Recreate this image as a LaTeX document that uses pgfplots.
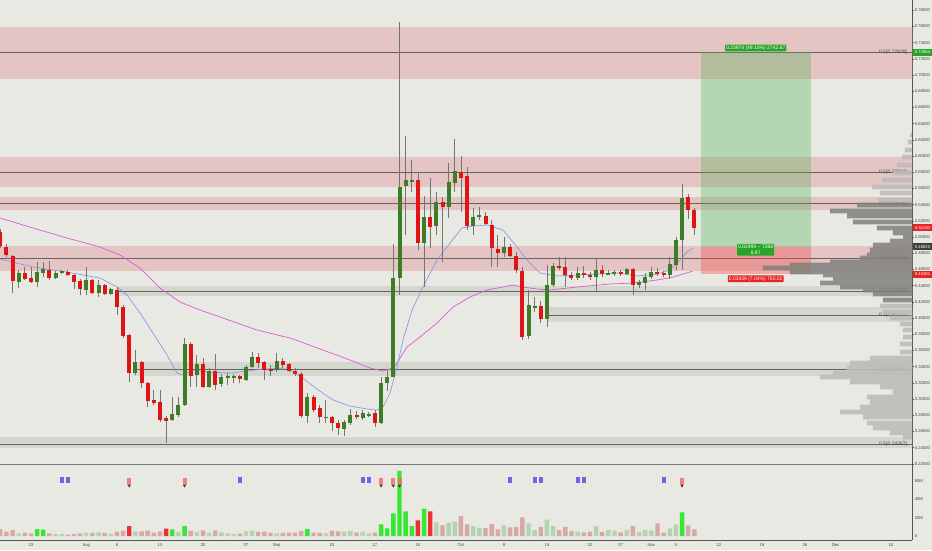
\documentclass[border=0pt]{standalone}
\usepackage{pgfplots}
\pgfplotsset{compat=1.18}
\usepackage{pgfplotstable}
\usepackage{fontspec}
\setmainfont{Liberation Sans}

\definecolor{bg}{RGB}{232,233,226}
\definecolor{zonepink}{RGB}{228,197,196}
\definecolor{zonegrey}{RGB}{213,215,207}
\definecolor{zoneline}{RGB}{100,100,96}
\definecolor{candleup}{RGB}{62,124,40}
\definecolor{candledn}{RGB}{224,20,20}
\definecolor{wick}{RGB}{118,118,112}
\definecolor{mablue}{RGB}{120,150,230}
\definecolor{mapink}{RGB}{218,90,218}
\definecolor{axisgrey}{RGB}{85,85,85}
\definecolor{labelgrey}{RGB}{70,70,70}
\definecolor{tpgreen}{RGB}{76,175,80}
\definecolor{slred}{RGB}{240,80,80}
\definecolor{taggreen}{RGB}{40,165,40}
\definecolor{tagred}{RGB}{232,36,36}
\definecolor{tagdark}{RGB}{62,62,62}
\definecolor{profdark}{RGB}{128,128,125}
\definecolor{proflight}{RGB}{188,189,184}
\definecolor{volup}{RGB}{52,232,52}
\definecolor{voldn}{RGB}{236,48,48}
\definecolor{volupf}{RGB}{180,211,174}
\definecolor{voldnf}{RGB}{214,168,166}
\definecolor{flagblue}{RGB}{104,104,232}
\definecolor{flagred}{RGB}{234,112,112}

\newcommand{\tinyfont}{\fontsize{4.2}{5}\selectfont}
\newcommand{\fibfont}{\fontsize{5}{6}\selectfont}

% daily candles, k = days after 23 Jul
\pgfplotstableread{
k o h l c
-2 0.4448 0.4593 0.4367 0.4556
1 0.4441 0.4688 0.4379 0.4572
2 0.4559 0.4695 0.4503 0.4605
4 0.4498 0.4580 0.4482 0.4556
5 0.4559 0.4593 0.4543 0.4580
9 0.4346 0.4633 0.4284 0.4469
11 0.4312 0.4469 0.4263 0.4407
13 0.4296 0.4370 0.4284 0.4355
17 0.3317 0.3605 0.3296 0.3453
23 0.2741 0.3028 0.2735 0.2815
24 0.2802 0.3028 0.2778 0.2926
25 0.2926 0.3753 0.2914 0.3679
27 0.3296 0.3543 0.3152 0.3432
29 0.3152 0.3383 0.3136 0.3349
31 0.3181 0.3309 0.3148 0.3268
32 0.3268 0.3321 0.3173 0.3284
33 0.3268 0.3309 0.3198 0.3280
35 0.3235 0.3420 0.3222 0.3399
36 0.3399 0.3580 0.3383 0.3515
40 0.3358 0.3568 0.3333 0.3473
45 0.2790 0.3074 0.2700 0.3028
48 0.2769 0.2988 0.2704 0.2781
51 0.2626 0.2741 0.2543 0.2720
52 0.2707 0.2873 0.2679 0.2802
54 0.2762 0.2864 0.2741 0.2823
55 0.2802 0.2840 0.2778 0.2815
57 0.2707 0.3275 0.2704 0.3198
58 0.3194 0.3358 0.3099 0.3275
59 0.3275 0.4914 0.3275 0.4490
60 0.4490 0.7654 0.4284 0.5621
61 0.5630 0.6247 0.5025 0.5704
62 0.5691 0.5951 0.5559 0.5704
64 0.4922 0.5506 0.4386 0.5243
66 0.5136 0.5559 0.5025 0.5436
68 0.5374 0.5917 0.5231 0.5675
69 0.5663 0.6206 0.5559 0.5815
72 0.5136 0.5354 0.5025 0.5251
73 0.5251 0.5367 0.5210 0.5272
77 0.4806 0.5004 0.4757 0.4880
81 0.3784 0.4346 0.3741 0.4158
82 0.4130 0.4259 0.4078 0.4142
84 0.3991 0.4654 0.3893 0.4404
85 0.4404 0.4676 0.4386 0.4642
89 0.4490 0.4633 0.4469 0.4552
92 0.4503 0.4737 0.4337 0.4593
94 0.4540 0.4593 0.4531 0.4552
95 0.4543 0.4593 0.4519 0.4572
97 0.4540 0.4614 0.4527 0.4601
99 0.4407 0.4469 0.4367 0.4445
100 0.4436 0.4552 0.4346 0.4503
101 0.4503 0.4633 0.4485 0.4572
104 0.4531 0.4749 0.4478 0.4663
105 0.4654 0.5004 0.4593 0.4963
106 0.4963 0.5654 0.4593 0.5485
}\upcandles

\pgfplotstableread{
k o h l c
-5 0.5066 0.5099 0.4864 0.4889
-4 0.4880 0.4914 0.4753 0.4778
-3 0.4765 0.4778 0.4312 0.4457
-1 0.4559 0.4633 0.4469 0.4485
0 0.4494 0.4633 0.4428 0.4445
3 0.4593 0.4704 0.4469 0.4498
6 0.4572 0.4587 0.4519 0.4531
7 0.4531 0.4543 0.4355 0.4448
8 0.4461 0.4482 0.4284 0.4355
10 0.4469 0.4482 0.4296 0.4312
12 0.4407 0.4420 0.4284 0.4296
14 0.4346 0.4386 0.4037 0.4132
15 0.4132 0.4161 0.3749 0.3778
16 0.3790 0.3803 0.3214 0.3317
18 0.3453 0.3469 0.3132 0.3194
19 0.3201 0.3210 0.2898 0.2979
20 0.2988 0.3111 0.2926 0.2954
21 0.2963 0.3111 0.2720 0.2741
22 0.2765 0.2790 0.2461 0.2732
26 0.3679 0.3707 0.3152 0.3290
28 0.3432 0.3506 0.3136 0.3152
30 0.3349 0.3556 0.3111 0.3173
34 0.3284 0.3296 0.3194 0.3243
37 0.3515 0.3568 0.3383 0.3448
38 0.3461 0.3469 0.3235 0.3358
39 0.3367 0.3420 0.3284 0.3349
41 0.3473 0.3506 0.3383 0.3420
42 0.3432 0.3444 0.3333 0.3349
43 0.3349 0.3383 0.3284 0.3309
44 0.3309 0.3333 0.2765 0.2790
46 0.3028 0.3046 0.2840 0.2864
47 0.2885 0.2926 0.2704 0.2774
49 0.2774 0.2794 0.2605 0.2700
50 0.2707 0.2741 0.2556 0.2638
53 0.2802 0.2852 0.2753 0.2774
56 0.2823 0.2864 0.2654 0.2707
63 0.5704 0.5806 0.4840 0.4922
65 0.5251 0.5725 0.4861 0.5127
67 0.5428 0.5498 0.4691 0.5374
70 0.5799 0.5999 0.5312 0.5732
71 0.5757 0.5864 0.5087 0.5136
74 0.5259 0.5312 0.5144 0.5161
75 0.5148 0.5210 0.4633 0.4861
76 0.4856 0.5025 0.4633 0.4806
78 0.4873 0.4914 0.4757 0.4769
79 0.4765 0.4819 0.4552 0.4593
80 0.4584 0.4633 0.3728 0.3769
83 0.4145 0.4210 0.3942 0.3991
86 0.4642 0.4749 0.4593 0.4614
87 0.4626 0.4749 0.4379 0.4535
88 0.4527 0.4572 0.4469 0.4494
90 0.4552 0.4642 0.4490 0.4527
91 0.4531 0.4572 0.4469 0.4503
93 0.4593 0.4654 0.4510 0.4543
96 0.4572 0.4593 0.4519 0.4543
98 0.4601 0.4614 0.4284 0.4407
102 0.4568 0.4614 0.4519 0.4543
103 0.4559 0.4584 0.4510 0.4527
107 0.5498 0.5531 0.5219 0.5338
108 0.5338 0.5364 0.5019 0.5115
}\dncandles

% visible range volume profile (price level, relative volume)
\pgfplotstableread{
p w
0.6259 1.3
0.6173 2.7
0.6074 4.7
0.5988 6.7
0.5889 10.1
0.5790 12.8
0.5704 20.1
0.5617 26.8
0.5543 21.5
0.5457 22.8
0.4148 21.5
0.4074 19.5
0.4000 14.8
0.3926 8.1
0.3852 6.0
0.3765 6.0
0.3679 8.1
0.3580 8.1
0.3506 28.2
0.3445 41.6
0.3383 43.6
0.3321 53.0
0.3272 61.7
0.3210 41.6
0.3148 21.5
0.3086 12.8
0.3025 30.2
0.2963 28.2
0.2901 34.9
0.2840 48.3
0.2778 32.9
0.2704 30.2
0.2642 26.2
0.2580 14.8
0.2531 6.0
}\proflighttab

\pgfplotstableread{
p w
0.5395 36.9
0.5321 55.0
0.5259 43.6
0.5185 39.6
0.5111 23.5
0.5049 12.8
0.5000 6.0
0.4951 14.8
0.4901 26.2
0.4840 28.2
0.4778 30.2
0.4741 34.9
0.4691 55.0
0.4654 81.9
0.4617 100
0.4568 81.9
0.4531 59.7
0.4494 53.0
0.4432 61.7
0.4383 48.3
0.4346 32.9
0.4296 26.2
0.4222 19.5
}\profdarktab

\begin{document}
\begin{tikzpicture}
\fill[bg] (0,0) rectangle (932pt,550pt);
\path[use as bounding box] (0,0) rectangle (932pt,550pt);

% ---------------- price pane ----------------
\begin{axis}[
  at={(0pt,86pt)}, anchor=south west,
  width=912pt, height=464pt, scale only axis,
  xmin=-5.047, xmax=143.44, ymin=0.2198, ymax=0.7926,
  axis x line=none, axis y line*=right,
  axis line style={draw=axisgrey, line width=0.6pt},
  ytick={0.22,0.24,0.26,0.28,0.30,0.32,0.34,0.36,0.38,0.40,0.42,0.44,0.46,0.48,0.50,0.52,0.54,0.56,0.58,0.60,0.62,0.64,0.66,0.68,0.70,0.72,0.74,0.76,0.78},
  scaled y ticks=false,
  tick align=outside, major tick length=2pt,
  tick style={draw=axisgrey, line width=0.4pt},
  yticklabel style={font=\tinyfont, text=labelgrey, inner sep=0.6pt,
    /pgf/number format/.cd, fixed, fixed zerofill, precision=5, assume math mode=true},
]
% zones
\addplot[draw=none, fill=zonepink, forget plot] coordinates {(-6,0.6947) (145,0.6947) (145,0.7596) (-6,0.7596)};
\addplot[draw=none, fill=zonepink, forget plot] coordinates {(-6,0.5621) (145,0.5621) (145,0.5994) (-6,0.5994)};
\addplot[draw=none, fill=zonepink, forget plot] coordinates {(-6,0.5333) (145,0.5333) (145,0.5498) (-6,0.5498)};
\addplot[draw=none, fill=zonepink, forget plot] coordinates {(-6,0.4586) (145,0.4586) (145,0.4895) (-6,0.4895)};
\addplot[draw=none, fill=zonegrey, forget plot] coordinates {(14.2,0.4272) (145,0.4272) (145,0.4395) (14.2,0.4395)};
\addplot[draw=none, fill=zonegrey, forget plot] coordinates {(84,0.3954) (145,0.3954) (145,0.4140) (84,0.4140)};
\addplot[draw=none, fill=zonegrey, forget plot] coordinates {(16.6,0.3284) (145,0.3284) (145,0.3457) (16.6,0.3457)};
\addplot[draw=none, fill=zonegrey, forget plot] coordinates {(-6,0.2395) (145,0.2395) (145,0.2531) (-6,0.2531)};
% zone mid lines
\addplot[zoneline, line width=0.7pt, forget plot] coordinates {(-6,0.72828) (145,0.72828)};
\addplot[zoneline, line width=0.7pt, forget plot] coordinates {(-6,0.58024) (145,0.58024)};
\addplot[zoneline, line width=0.7pt, forget plot] coordinates {(-6,0.54106) (145,0.54106)};
\addplot[zoneline, line width=0.7pt, forget plot] coordinates {(-6,0.47411) (145,0.47411)};
\addplot[zoneline, line width=0.7pt, forget plot] coordinates {(14.2,0.43252) (145,0.43252)};
\addplot[zoneline, line width=0.7pt, forget plot] coordinates {(84,0.40372) (145,0.40372)};
\addplot[zoneline, line width=0.7pt, forget plot] coordinates {(16.6,0.33614) (145,0.33614)};
\addplot[zoneline, line width=0.7pt, forget plot] coordinates {(-6,0.24367) (145,0.24367)};
\node[anchor=east, font=\fibfont, text=labelgrey, inner sep=0.5pt] at (axis cs:142.8,0.72828) {0.5(0.72828)};
\node[anchor=east, font=\fibfont, text=labelgrey, inner sep=0.5pt] at (axis cs:142.8,0.58024) {0.5(0.58024)};
\node[anchor=east, font=\fibfont, text=labelgrey, inner sep=0.5pt] at (axis cs:142.8,0.54106) {0.5(0.54106)};
\node[anchor=east, font=\fibfont, text=labelgrey, inner sep=0.5pt] at (axis cs:142.8,0.47411) {0.5(0.47411)};
\node[anchor=east, font=\fibfont, text=labelgrey, inner sep=0.5pt] at (axis cs:142.8,0.43252) {0.5(0.43252)};
\node[anchor=east, font=\fibfont, text=labelgrey, inner sep=0.5pt] at (axis cs:142.8,0.40372) {0.5(0.40372)};
\node[anchor=east, font=\fibfont, text=labelgrey, inner sep=0.5pt] at (axis cs:142.8,0.33614) {0.5(0.33614)};
\node[anchor=east, font=\fibfont, text=labelgrey, inner sep=0.5pt] at (axis cs:142.8,0.24367) {0.5(0.24367)};

% long position
\addplot[draw=none, fill=tpgreen, fill opacity=0.32, forget plot] coordinates {(109.03,0.4882) (126.94,0.4882) (126.94,0.72804) (109.03,0.72804)};
\addplot[draw=none, fill=slred, fill opacity=0.38, forget plot] coordinates {(109.03,0.45391) (126.94,0.45391) (126.94,0.4882) (109.03,0.4882)};
\node[fill=taggreen, text=white, font=\fibfont, inner sep=1pt, rounded corners=0.5pt] at (axis cs:117.99,0.7333) {0.23974 (49.10\%) 2742.67};
\node[fill=taggreen, text=white, font=\fibfont, inner sep=1pt, align=center, rounded corners=0.5pt] at (axis cs:117.99,0.4843) {0.02490 \textasciitilde{} 7269\\6.97};
\node[fill=tagred, text=white, font=\fibfont, inner sep=1pt, rounded corners=0.5pt] at (axis cs:117.99,0.4485) {0.03439 (7.04\%) 750.02};

% moving averages
\addplot[mapink, line width=0.7pt, line join=round, forget plot] coordinates {
(-5.05,0.5235) (0.33,0.5111) (5.86,0.4988) (11.23,0.4877) (14.49,0.4778) (17.75,0.4617) (21.0,0.4370) (24.26,0.4198) (27.52,0.4099) (31.26,0.4000) (36.8,0.3852) (42.17,0.3753) (47.54,0.3605) (51.94,0.3482) (55.19,0.3383) (57.31,0.3346) (58.94,0.3383) (59.59,0.3445) (61.22,0.3642) (63.33,0.3765) (66.1,0.3938) (68.71,0.4136) (71.47,0.4259) (74.24,0.4346) (76.85,0.4383) (78.48,0.4407) (80.1,0.4383) (82.38,0.4358) (84.5,0.4346) (88.9,0.4383) (94.27,0.4420) (98.01,0.4432) (101.92,0.4469) (104.53,0.4506) (107.78,0.4580)};
\addplot[mablue, line width=0.6pt, line join=round, forget plot] coordinates {
(-5.05,0.4728) (0.33,0.4630) (5.86,0.4568) (11.23,0.4494) (14.0,0.4383) (15.63,0.4284) (17.75,0.4062) (19.86,0.3815) (22.14,0.3543) (23.77,0.3321) (24.75,0.3296) (26.38,0.3358) (29.14,0.3333) (32.4,0.3321) (35.17,0.3346) (37.77,0.3370) (41.68,0.3383) (43.8,0.3284) (46.57,0.3123) (49.17,0.2988) (51.94,0.2914) (54.7,0.2877) (56.33,0.2864) (57.3,0.2901) (58.45,0.3074) (59.6,0.3395) (60.57,0.3728) (62.03,0.4099) (63.82,0.4383) (66.1,0.4716) (68.22,0.4926) (70.17,0.5111) (71.96,0.5136) (74.24,0.5148) (76.85,0.5086) (79.13,0.4877) (80.76,0.4716) (82.87,0.4556) (85.64,0.4519) (88.9,0.4531) (92.15,0.4543) (95.41,0.4556) (98.67,0.4519) (101.92,0.4543) (104.04,0.4593) (105.67,0.4716) (106.81,0.4815) (107.78,0.4864)};

% wicks
\addplot[draw=none, mark=none, forget plot,
  error bars/.cd, y dir=both, y explicit, error mark=none,
  error bar style={draw=wick, line width=0.8pt}]
  table[x=k, y=o, y error plus expr=\thisrow{h}-\thisrow{o}, y error minus expr=\thisrow{o}-\thisrow{l}] {\upcandles};
\addplot[draw=none, mark=none, forget plot,
  error bars/.cd, y dir=both, y explicit, error mark=none,
  error bar style={draw=wick, line width=0.8pt}]
  table[x=k, y=o, y error plus expr=\thisrow{h}-\thisrow{o}, y error minus expr=\thisrow{o}-\thisrow{l}] {\dncandles};
% bodies
\addplot[draw=none, mark=none, forget plot,
  error bars/.cd, y dir=both, y explicit, error mark=none,
  error bar style={draw=candleup, line width=4pt, line cap=butt}]
  table[x=k, y expr=(\thisrow{o}+\thisrow{c})/2, y error expr={max(abs(\thisrow{c}-\thisrow{o})/2,0.0007)}] {\upcandles};
\addplot[draw=none, mark=none, forget plot,
  error bars/.cd, y dir=both, y explicit, error mark=none,
  error bar style={draw=candledn, line width=4pt, line cap=butt}]
  table[x=k, y expr=(\thisrow{o}+\thisrow{c})/2, y error expr={max(abs(\thisrow{c}-\thisrow{o})/2,0.0007)}] {\dncandles};
\end{axis}

% ---------------- volume profile overlay ----------------
\begin{axis}[
  at={(0pt,86pt)}, anchor=south west,
  width=912pt, height=464pt, scale only axis, hide axis,
  x dir=reverse, xmin=0, xmax=612, ymin=0.2198, ymax=0.7926,
]
\addplot[xbar, bar shift=0pt, bar width=0.0060, draw=none, fill=proflight, fill opacity=0.9] table[x=w, y=p] {\proflighttab};
\addplot[xbar, bar shift=0pt, bar width=0.0060, draw=none, fill=profdark, fill opacity=0.85] table[x=w, y=p] {\profdarktab};
\end{axis}

% ---------------- volume pane ----------------
\begin{axis}[
  at={(0pt,10pt)}, anchor=south west,
  width=912pt, height=75pt, scale only axis,
  xmin=-5.047, xmax=143.44, ymin=-4.36, ymax=77.5,
  axis x line*=bottom, axis y line*=right,
  axis line style={draw=axisgrey, line width=0.6pt},
  major tick length=0pt,
  ytick={0,20,40,60}, yticklabels={0,20M,40M,60M},
  xtick={0,9,14,21,28,35,40,49,56,63,70,77,84,91,96,101,105,112,119,126,131,140},
  xticklabels={23,Aug,6,13,20,27,Sep,10,17,24,Oct,8,15,22,27,Nov,5,12,19,26,Dec,10},
  xticklabel style={font=\tinyfont, text=labelgrey, anchor=center, yshift=-5pt},
  yticklabel style={font=\tinyfont, text=labelgrey, inner sep=2.6pt},
]
\addplot[ybar, bar width=0.72, bar shift=0pt, draw=none, fill=voldnf, forget plot] coordinates {
(-5,7.6) (-4,4.7) (-3,6.5) (-1,3.6) (0,3) (3,3) (6,1.5) (7,2) (8,3) (10,3.3) (12,3.3) (14,4.7) (15,5.8) (18,5) (19,5.8) (20,3.6) (21,5) (26,5.8) (28,6.2) (30,6.2) (34,2.5) (37,4.4) (38,4.7) (39,3.6) (41,3.3) (42,3.6) (43,3.6) (44,5.5) (46,3.6) (47,3.3) (49,5.8) (50,5) (53,4) (56,3.6) (67,12) (70,21.8) (71,12.7) (74,9) (75,13) (76,7.3) (78,9.5) (79,10) (80,20.4) (83,10) (86,6.5) (87,10) (88,5.5) (90,4) (91,4.7) (93,4.4) (96,4) (98,10.9) (102,13.8) (103,3.6) (107,11.6) (108,7.3)};
\addplot[ybar, bar width=0.72, bar shift=0pt, draw=none, fill=volupf, forget plot] coordinates {
(-2,3) (4,2) (5,2) (9,3.6) (11,4) (13,2.5) (17,5) (24,4.4) (27,4.4) (29,3.6) (31,4) (32,3) (33,2) (35,5) (36,5.8) (40,3) (48,3) (51,4.4) (52,5.5) (54,4.4) (55,3) (66,15) (68,14.5) (69,15.6) (72,10.9) (73,9) (77,11.6) (81,13.8) (82,6.5) (84,18) (85,10.9) (89,4.7) (92,10.9) (94,6.5) (95,5.8) (97,6.5) (99,4.7) (100,6.5) (101,5.8) (104,8.4) (105,12.7)};
\addplot[ybar, bar width=0.72, bar shift=0pt, draw=none, fill=voldn, forget plot] coordinates {
(16,10.9) (22,8) (63,17) (65,27)};
\addplot[ybar, bar width=0.72, bar shift=0pt, draw=none, fill=volup, forget plot] coordinates {
(1,7.6) (2,7.0) (23,7.3) (25,10.9) (45,7.6) (57,12.7) (58,8.4) (59,24.7) (60,71) (61,27) (62,10.9) (64,30) (106,25.8)};
% signal flags
\addplot[draw=none, mark=none, forget plot,
  error bars/.cd, y dir=both, y fixed=3.6, error mark=none,
  error bar style={draw=flagblue, line width=4pt, line cap=butt}]
  coordinates {(5,61.1) (6,61.1) (34,61.1) (54,61.1) (55,61.1) (78,61.1) (82,61.1) (83,61.1) (89,61.1) (90,61.1) (103,61.1)};
\addplot[draw=none, mark=none, forget plot,
  error bars/.cd, y dir=both, y fixed=3.6, error mark=none,
  error bar style={draw=flagred, line width=4pt, line cap=butt, opacity=0.85}]
  coordinates {(16,59.5) (25,59.5) (57,59.5) (59,59.5) (60,59.5) (106,59.5)};
\addplot[only marks, mark=triangle*, mark size=1.3pt, forget plot,
  mark options={rotate=180, fill=flagred, draw=none, opacity=0.85}]
  coordinates {(16,54.8) (25,54.8) (57,54.8) (59,54.8) (60,54.8) (106,54.8)};
\end{axis}

% pane separator
\draw[color=axisgrey!80, line width=1pt] (0,85.3pt) -- (912pt,85.3pt);

% price tags on the right scale
\node[fill=taggreen, text=white, font=\tinyfont, minimum width=19pt, minimum height=6.5pt, inner sep=0pt] at (922.5pt,497.7pt) {0.72804};
\node[fill=tagred, text=white, font=\tinyfont, minimum width=19pt, minimum height=6.5pt, inner sep=0pt] at (922.5pt,322.3pt) {0.51150};
\node[fill=tagdark, text=white, font=\tinyfont, minimum width=19pt, minimum height=6.5pt, inner sep=0pt] at (922.5pt,303.4pt) {0.48820};
\node[fill=tagred, text=white, font=\tinyfont, minimum width=19pt, minimum height=6.5pt, inner sep=0pt] at (922.5pt,275.7pt) {0.45391};
\end{tikzpicture}
\end{document}
